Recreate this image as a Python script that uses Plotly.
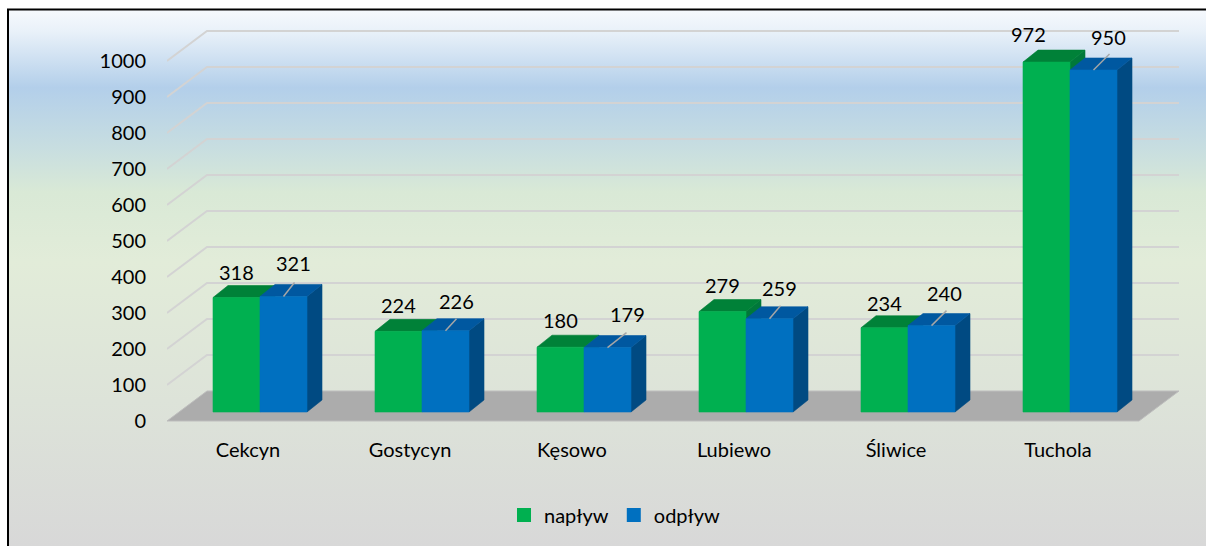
import base64
import plotly.graph_objects as go

# ---------------- data ----------------
categories = ["Cekcyn", "Gostycyn", "Kęsowo", "Lubiewo", "Śliwice", "Tuchola"]
naplyw = [318, 224, 180, 279, 234, 972]
odplyw = [321, 226, 179, 259, 240, 950]
series_names = ["napływ", "odpływ"]
y_ticks = [0, 100, 200, 300, 400, 500, 600, 700, 800, 900, 1000]

# ---------------- styles / geometry ----------------
W, H = 1206, 546
L, R, T, B = 167, 25, 28, 116
PW, PH = W - L - R, H - T - B
CAT_PX = 162.0      # pixels per category
VAL_PX = 0.36       # pixels per value unit
ZERO_PAD = 9        # pixels below the zero line inside the plot area

def px_x(p):
    return p / CAT_PX

def px_y(p):
    return p / VAL_PX

y_lo = -px_y(ZERO_PAD)
y_hi = y_lo + px_y(PH)
x_lo = -0.5
x_hi = x_lo + px_x(PW)

FLOOR_DX, FLOOR_DY = px_x(40), px_y(30)
BAR_DX, BAR_DY = px_x(15), px_y(12)
BAR_OFF_X, BAR_OFF_Y = px_x(12), px_y(9)
BAR_W = px_x(47)

FONT = "Lato"
GREEN = dict(front="#00b050", top="#008138", side="#00783a")
BLUE = dict(front="#0070c0", top="#0058a0", side="#004a82")

# label offsets (pixels)
g_xshift = [0, 0, 0, 0, 0, -18]
g_yshift = [26, 26, 27, 27, 25, 28]
b_xshift = [10, 11, 20, 10, 13, 15]
b_yshift = [33, 30, 34, 31, 33, 33]
lead_dx = [11, 11, 19, 11, 15, 16]
lead_dy = [14, 12, 15, 13, 15, 16]

fig = go.Figure()

# ---------------- gridlines ----------------
gx, gy = [], []
n = len(categories)
for v in y_ticks[1:]:
    gx += [x_lo, x_lo + FLOOR_DX, n - 0.5 + FLOOR_DX, None]
    gy += [v, v + FLOOR_DY, v + FLOOR_DY, None]
fig.add_trace(go.Scatter(x=gx, y=gy, mode="lines", line=dict(color="#d3d3d3", width=2),
                         hoverinfo="skip", showlegend=False))

# ---------------- floor ----------------
fx = [x_lo, n - 0.5, n - 0.5 + FLOOR_DX, x_lo + FLOOR_DX, x_lo]
fy = [0, 0, FLOOR_DY, FLOOR_DY, 0]
fig.add_trace(go.Scatter(x=fx, y=fy, mode="lines", fill="toself", fillcolor="#acacac",
                         line=dict(color="#bdbdbd", width=1), hoverinfo="skip", showlegend=False))

# ---------------- bars (pseudo 3D) ----------------
def add_series(values, left_of_center, colors, name):
    sx, sy, tx, ty, frx, fry = [], [], [], [], [], []
    for i, v in enumerate(values):
        xc = i + BAR_OFF_X
        x0 = xc - BAR_W if left_of_center else xc
        x1 = x0 + BAR_W
        b = BAR_OFF_Y
        t = BAR_OFF_Y + v
        sx += [x1, x1, x1 + BAR_DX, x1 + BAR_DX, x1, None]
        sy += [b, t, t + BAR_DY, b + BAR_DY, b, None]
        tx += [x0, x1, x1 + BAR_DX, x0 + BAR_DX, x0, None]
        ty += [t, t, t + BAR_DY, t + BAR_DY, t, None]
        frx += [x0, x1, x1, x0, x0, None]
        fry += [b, b, t, t, b, None]
    for xs, ys, c in [(sx, sy, colors["side"]), (tx, ty, colors["top"]), (frx, fry, colors["front"])]:
        fig.add_trace(go.Scatter(x=xs, y=ys, mode="lines", fill="toself", fillcolor=c,
                                 line=dict(color=c, width=0.6), hoverinfo="skip",
                                 showlegend=False, name=name))

add_series(naplyw, True, GREEN, series_names[0])
add_series(odplyw, False, BLUE, series_names[1])

# ---------------- leader lines ----------------
lx, ly = [], []
for i, v in enumerate(odplyw):
    xc = i + BAR_OFF_X + BAR_W / 2
    t = BAR_OFF_Y + v
    lx += [xc, xc + px_x(lead_dx[i]), None]
    ly += [t, t + px_y(lead_dy[i]), None]
fig.add_trace(go.Scatter(x=lx, y=ly, mode="lines", line=dict(color="#a6a6a6", width=1.5),
                         hoverinfo="skip", showlegend=False))

# ---------------- data labels ----------------
for i in range(n):
    gxc = i + BAR_OFF_X - BAR_W / 2
    bxc = i + BAR_OFF_X + BAR_W / 2
    fig.add_annotation(x=gxc, y=BAR_OFF_Y + naplyw[i], text=str(naplyw[i]), showarrow=False,
                       xshift=g_xshift[i], yshift=g_yshift[i],
                       font=dict(family=FONT, size=20, color="#000000"))
    fig.add_annotation(x=bxc, y=BAR_OFF_Y + odplyw[i], text=str(odplyw[i]), showarrow=False,
                       xshift=b_xshift[i], yshift=b_yshift[i],
                       font=dict(family=FONT, size=20, color="#000000"))

# ---------------- legend entries ----------------
for nm, c in zip(series_names, [GREEN["front"], BLUE["front"]]):
    fig.add_trace(go.Scatter(x=[None], y=[None], mode="markers", name=nm,
                             marker=dict(symbol="square", size=14, color=c)))

# ---------------- background gradient ----------------
svg = (
    '<svg xmlns="http://www.w3.org/2000/svg" width="100" height="100" preserveAspectRatio="none">'
    '<defs><linearGradient id="g" x1="0" y1="0" x2="0" y2="1">'
    '<stop offset="0" stop-color="#f6f9fd"/>'
    '<stop offset="0.04" stop-color="#e9f1f9"/>'
    '<stop offset="0.145" stop-color="#b3cfea"/>'
    '<stop offset="0.26" stop-color="#c8dee0"/>'
    '<stop offset="0.34" stop-color="#d9e9d6"/>'
    '<stop offset="0.47" stop-color="#e2ecd9"/>'
    '<stop offset="0.73" stop-color="#dde3d9"/>'
    '<stop offset="1" stop-color="#d8d8d8"/>'
    '</linearGradient></defs>'
    '<rect x="0" y="0" width="100" height="100" fill="url(#g)"/></svg>'
)
src = "data:image/svg+xml;base64," + base64.b64encode(svg.encode()).decode()

def pxp(p):
    return (p - L) / PW

def pyp(p):
    return (H - B - p) / PH

fig.add_layout_image(dict(source=src, xref="paper", yref="paper", x=pxp(8), y=pyp(10),
                          sizex=(W + 20 - 8) / PW, sizey=(H - 10) / PH, sizing="stretch",
                          xanchor="left", yanchor="top", layer="below"))

# frame: top and left edges only (the box continues beyond the picture)
fig.add_shape(type="line", xref="paper", yref="paper", x0=pxp(7), x1=pxp(W),
              y0=pyp(9.5), y1=pyp(9.5), line=dict(color="#000000", width=2))
fig.add_shape(type="line", xref="paper", yref="paper", x0=pxp(8), x1=pxp(8),
              y0=pyp(9), y1=pyp(H), line=dict(color="#000000", width=2))

fig.update_layout(
    width=W, height=H,
    margin=dict(l=L, r=R, t=T, b=B, pad=0),
    paper_bgcolor="#ffffff", plot_bgcolor="rgba(0,0,0,0)",
    font=dict(family=FONT, size=20, color="#000000"),
    showlegend=True,
    legend=dict(orientation="h", x=pxp(615), y=pyp(515), xanchor="center", yanchor="middle",
                bgcolor="rgba(0,0,0,0)", font=dict(family=FONT, size=20, color="#000000"),
                itemwidth=30, traceorder="normal"),
    xaxis=dict(range=[x_lo, x_hi], tickvals=list(range(n)), ticktext=categories,
               showgrid=False, zeroline=False, showline=False, ticks="",
               tickfont=dict(family=FONT, size=20, color="#000000"), ticklabelstandoff=6,
               fixedrange=True),
    yaxis=dict(range=[y_lo, y_hi], tickvals=y_ticks, ticktext=[str(v) for v in y_ticks],
               showgrid=False, zeroline=False, showline=False, ticks="",
               tickfont=dict(family=FONT, size=20, color="#000000"), ticklabelstandoff=20,
               fixedrange=True),
)

fig.write_html(
    "out.html",
    config={"displayModeBar": False},
    post_script=(
        "document.documentElement.style.overflow='hidden';"
        "document.body.style.margin='0';document.body.style.padding='0';"
        "document.body.style.overflow='hidden';"
    ),
)
